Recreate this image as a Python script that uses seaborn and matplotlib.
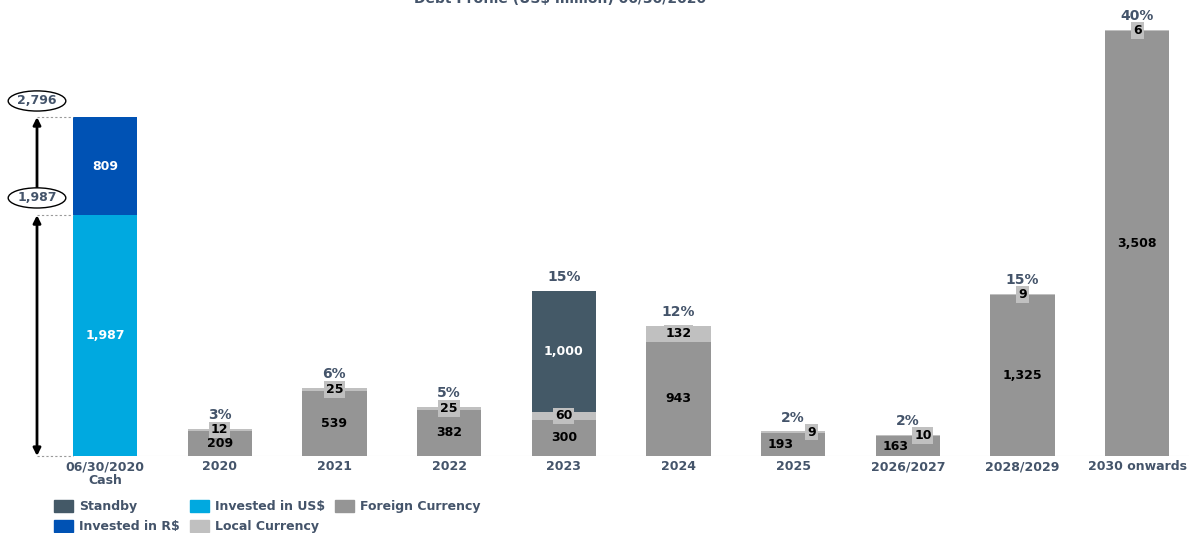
import numpy as np
import pandas as pd
import matplotlib.pyplot as plt
import seaborn as sns
from matplotlib.patches import Patch

# data (US$ million)
periods = ['06/30/2020\nCash', '2020', '2021', '2022', '2023', '2024',
           '2025', '2026/2027', '2028/2029', '2030 onwards']
cash_usd = [1987, 0, 0, 0, 0, 0, 0, 0, 0, 0]
cash_brl = [809, 0, 0, 0, 0, 0, 0, 0, 0, 0]
foreign = [0, 209, 539, 382, 300, 943, 193, 163, 1325, 3508]
local = [0, 12, 25, 25, 60, 132, 9, 10, 9, 6]
standby = [0, 0, 0, 0, 1000, 0, 0, 0, 0, 0]
pct = ['', '3%', '6%', '5%', '15%', '12%', '2%', '2%', '15%', '40%']

c_standby = '#445967'
c_usd = '#00A9E0'
c_brl = '#0052B4'
c_foreign = '#959595'
c_local = '#C0C0C0'
txt = '#44546A'

sns.set_style('white')
plt.rcParams['font.family'] = ['DejaVu Sans']
plt.rcParams['font.weight'] = 'bold'

df = pd.DataFrame({'period': periods, 'usd': cash_usd, 'brl': cash_brl,
                   'foreign': foreign, 'local': local, 'standby': standby})
df['cash_top'] = df['usd'] + df['brl']
df['fl'] = df['foreign'] + df['local']
df['fls'] = df['fl'] + df['standby']
df['top'] = df[['cash_top', 'fls']].max(axis=1)

fig = plt.figure(figsize=(11.89, 5.33), dpi=100)
ax = fig.add_axes([33.9 / 1189, 0.1445, (1189 - 33.9) / 1189, 0.8555])

W = 0.56
# stacked bars drawn as overlapping cumulative layers
layers = [('cash_top', c_brl), ('usd', c_usd), ('fls', c_standby),
          ('fl', c_local), ('foreign', c_foreign)]
for col, clr in layers:
    sns.barplot(data=df, x='period', y=col, order=periods, color=clr,
                saturation=1, width=W, errorbar=None, linewidth=0, ax=ax)

ax.set_xlim(-0.62, -0.62 + (1189 - 33.9) / 114.7)
ax.set_ylim(0, 3762)
sns.despine(ax=ax, left=True, bottom=True)
ax.set_yticks([])
ax.set_xlabel('')
ax.set_ylabel('')
ax.tick_params(axis='x', length=0, pad=3, labelsize=9, labelcolor=txt)
for lab in ax.get_xticklabels():
    lab.set_fontweight('bold')
    lab.set_linespacing(1.05)
ax.axhline(0, color='#dcdcdc', lw=0.8, zorder=0)

# value labels
fx_off = {'2025': -0.11, '2026/2027': -0.11}
lc_off = {'2025': 0.16, '2026/2027': 0.13}
for i, r in df.iterrows():
    p = r['period']
    if r['usd'] > 0:
        ax.text(i, r['usd'] / 2, f"{r['usd']:,}", ha='center', va='center',
                color='white', fontsize=9, fontweight='bold')
        ax.text(i, r['usd'] + r['brl'] / 2, f"{r['brl']:,}", ha='center', va='center',
                color='white', fontsize=9, fontweight='bold')
        continue
    ax.text(i + fx_off.get(p, 0), r['foreign'] / 2, f"{r['foreign']:,}",
            ha='center', va='center', color='black', fontsize=9, fontweight='bold')
    ax.text(i + lc_off.get(p, 0), r['foreign'] + r['local'] / 2, f"{r['local']:,}",
            ha='center', va='center', color='black', fontsize=9, fontweight='bold',
            bbox=dict(boxstyle='square,pad=0.15', fc=c_local, ec='none'))
    if r['standby'] > 0:
        ax.text(i, r['fl'] + r['standby'] / 2, f"{r['standby']:,}", ha='center',
                va='center', color='white', fontsize=9, fontweight='bold')
    ax.annotate(pct[i], (i, r['top']), xytext=(0, 5), textcoords='offset points',
                ha='center', va='bottom', color=txt, fontsize=10, fontweight='bold')

# cash bracket on the left
xa = -0.593
total = cash_usd[0] + cash_brl[0]
for yv in [0, cash_usd[0], total]:
    ax.plot([xa, -W / 2], [yv, yv], ls=(0, (2, 2)), color='#9a9a9a', lw=0.8,
            clip_on=False)
ax.annotate('', xy=(xa, 0), xytext=(xa, cash_usd[0]),
            arrowprops=dict(arrowstyle='<|-|>', color='black', lw=2,
                            mutation_scale=11, shrinkA=0, shrinkB=0))
ax.annotate('', xy=(xa, total), xytext=(xa, cash_usd[0] + 120),
            arrowprops=dict(arrowstyle='-|>', color='black', lw=2,
                            mutation_scale=11, shrinkA=0, shrinkB=0))
for yv, lab in [(total + 133, f'{total:,}'), (cash_usd[0] + 142, f'{cash_usd[0]:,}')]:
    ax.text(xa, yv, lab, ha='center', va='center', color=txt, fontsize=9,
            fontweight='bold', clip_on=False, zorder=5,
            bbox=dict(boxstyle='ellipse,pad=0.05', fc='white', ec='black', lw=1))

# legend
handles = [Patch(color=c_standby, label='Standby'),
           Patch(color=c_brl, label='Invested in R$'),
           Patch(color=c_usd, label='Invested in US$'),
           Patch(color=c_local, label='Local Currency'),
           Patch(color=c_foreign, label='Foreign Currency')]
leg = fig.legend(handles=handles, ncol=3, loc='upper left',
                 bbox_to_anchor=(54 / 1189, 1 - 500 / 533), frameon=False,
                 fontsize=9, handlelength=1.5, handleheight=1.1,
                 handletextpad=0.5, columnspacing=0.8, labelspacing=0.5,
                 borderpad=0, borderaxespad=0)
for t in leg.get_texts():
    t.set_color(txt)
    t.set_fontweight('bold')

# title, cut by the top edge as in the slide
fig.text(0.471, 1 - 3 / 533, 'Debt Profile (US$ million) 06/30/2020', ha='center',
         va='baseline', color=txt, fontsize=10, fontweight='bold')

fig.savefig('out.png', dpi=100)
